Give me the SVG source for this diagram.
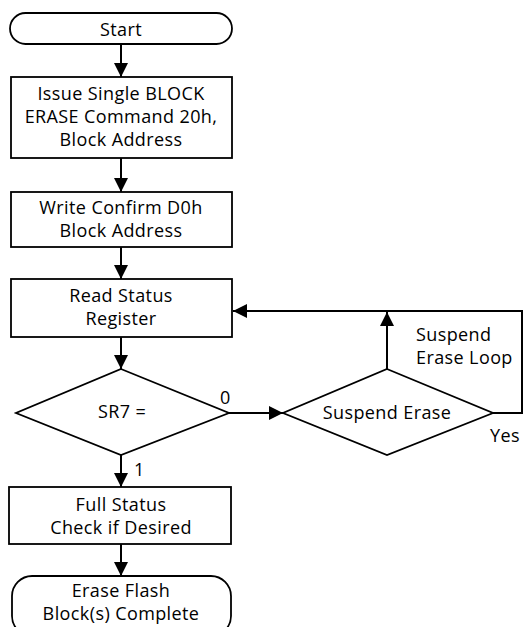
<svg xmlns="http://www.w3.org/2000/svg" width="524" height="627" viewBox="0 0 524 627">
<style>
.s{fill:#fff;stroke:#000;stroke-width:1.8}
.c{fill:none;stroke:#000;stroke-width:2}
text{font-family:"Open Sans","Noto Sans",sans-serif;font-size:18px;letter-spacing:0.4px;fill:#000}
.m{text-anchor:middle}
</style>
<defs>
<marker id="a" markerUnits="userSpaceOnUse" markerWidth="14" markerHeight="14" viewBox="0 0 14 14" refX="14" refY="7" orient="auto">
<path d="M0,0 L14,7 L0,14 Z" fill="#000"/>
</marker>
</defs>
<rect width="524" height="627" fill="#fff"/>
<g id="connectors">
<line class="c" x1="121" y1="44" x2="121" y2="77" marker-end="url(#a)"/>
<line class="c" x1="121" y1="158" x2="121" y2="192" marker-end="url(#a)"/>
<line class="c" x1="121" y1="247" x2="121" y2="279" marker-end="url(#a)"/>
<line class="c" x1="121" y1="337" x2="121" y2="369" marker-end="url(#a)"/>
<line class="c" x1="121" y1="455" x2="121" y2="487" marker-end="url(#a)"/>
<line class="c" x1="121" y1="544" x2="121" y2="576" marker-end="url(#a)"/>
<line class="c" x1="229" y1="413" x2="283" y2="413" marker-end="url(#a)"/>
<polyline class="c" points="493,413 522,413 522,311 233,311" marker-end="url(#a)"/>
<line class="c" x1="387" y1="369" x2="387" y2="312" marker-end="url(#a)"/>
<text x="220" y="404">0</text>
<text x="134" y="476">1</text>
<text x="416" y="341">Suspend</text>
<text x="416" y="364">Erase Loop</text>
<text x="490" y="442">Yes</text>
</g>
<g id="start">
<rect class="s" x="10" y="13" width="222" height="31" rx="15.5"/>
<text class="m" x="121" y="36">Start</text>
</g>
<g id="issue">
<rect class="s" x="11" y="77" width="221" height="81"/>
<text class="m" x="121" y="100">Issue Single BLOCK</text>
<text class="m" x="121" y="123">ERASE Command 20h,</text>
<text class="m" x="121" y="146">Block Address</text>
</g>
<g id="confirm">
<rect class="s" x="11" y="192" width="221" height="55"/>
<text class="m" x="121" y="214">Write Confirm D0h</text>
<text class="m" x="121" y="237">Block Address</text>
</g>
<g id="read">
<rect class="s" x="11" y="279" width="221" height="58"/>
<text class="m" x="121" y="302">Read Status</text>
<text class="m" x="121" y="325">Register</text>
</g>
<g id="sr7">
<polygon class="s" points="121,369 229,413 121,455 16,413"/>
<text class="m" x="122" y="418">SR7 =</text>
</g>
<g id="suspend">
<polygon class="s" points="387,369 493,413 387,455 283,413"/>
<text class="m" x="387" y="419">Suspend Erase</text>
</g>
<g id="full">
<rect class="s" x="9" y="487" width="222" height="57"/>
<text class="m" x="121" y="511">Full Status</text>
<text class="m" x="121" y="534">Check if Desired</text>
</g>
<g id="end">
<rect class="s" x="12" y="576" width="219" height="60" rx="20"/>
<text class="m" x="121" y="597">Erase Flash</text>
<text class="m" x="121" y="620">Block(s) Complete</text>
</g>
</svg>
